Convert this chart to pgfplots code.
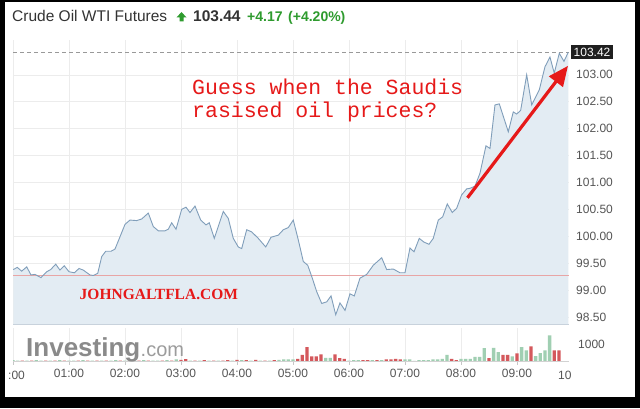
\documentclass[border=0pt]{standalone}
\usepackage{fontspec}
\setmainfont{Liberation Sans}
\newfontfamily\monofont{Liberation Mono}
\newfontfamily\serifont{Liberation Serif}
\usepackage{pgfplots}
\pgfplotsset{compat=1.18}
\usepackage{pgfplotstable}
\usetikzlibrary{arrows.meta}

\definecolor{areafill}{RGB}{227,236,243}
\definecolor{pline}{RGB}{128,158,186}
\definecolor{gridc}{RGB}{236,236,236}
\definecolor{refred}{RGB}{232,165,165}
\definecolor{annred}{RGB}{230,25,25}
\definecolor{vgreen}{RGB}{160,207,178}
\definecolor{vred}{RGB}{212,88,92}
\definecolor{upgreen}{RGB}{46,155,46}
\definecolor{labgray}{RGB}{85,85,85}
\definecolor{titlegray}{RGB}{51,51,51}
\definecolor{logogray}{RGB}{138,138,138}
\definecolor{bottomline}{RGB}{200,210,220}

\pgfplotstableread{
h p
0.005 99.38
0.077 99.42
0.155 99.35
0.245 99.43
0.321 99.28
0.393 99.29
0.500 99.23
0.602 99.34
0.673 99.38
0.763 99.48
0.839 99.37
0.916 99.45
1.000 99.34
1.095 99.32
1.179 99.40
1.255 99.37
1.375 99.28
1.434 99.27
1.513 99.31
1.584 99.62
1.655 99.72
1.750 99.72
1.821 99.76
1.911 99.99
2.000 100.22
2.089 100.30
2.209 100.29
2.298 100.32
2.416 100.43
2.505 100.18
2.595 100.10
2.714 100.10
2.773 100.13
2.834 100.25
2.911 100.13
3.013 100.50
3.089 100.54
3.161 100.44
3.250 100.56
3.352 100.30
3.446 100.21
3.505 100.25
3.595 99.96
3.684 100.24
3.755 100.46
3.845 100.33
3.934 99.96
4.023 99.80
4.084 99.77
4.173 100.12
4.263 100.08
4.380 99.96
4.513 99.80
4.607 99.98
4.738 100.02
4.827 100.12
4.916 100.16
5.005 100.30
5.095 99.93
5.184 99.53
5.263 99.46
5.345 99.22
5.423 98.97
5.513 98.75
5.602 98.78
5.679 98.89
5.763 98.54
5.839 98.76
5.929 98.62
6.018 98.93
6.095 98.89
6.196 99.22
6.316 99.29
6.434 99.46
6.584 99.60
6.673 99.38
6.791 99.39
6.911 99.32
7.000 99.32
7.089 99.78
7.161 99.71
7.255 99.96
7.339 99.89
7.429 99.85
7.505 99.96
7.595 100.30
7.673 100.36
7.755 100.60
7.845 100.44
7.923 100.52
8.013 100.77
8.102 100.88
8.161 100.89
8.250 100.93
8.339 101.17
8.446 101.68
8.518 101.63
8.607 102.44
8.684 102.46
8.845 101.94
8.934 102.31
8.995 102.27
9.066 102.34
9.173 103.00
9.263 102.44
9.398 102.72
9.500 103.15
9.589 103.33
9.666 103.03
9.755 103.40
9.839 103.25
9.916 103.42
}\price

\pgfplotstableread{
k v
0 80
1 60
3 60
5 80
6 60
8 60
10 80
12 60
13 60
15 80
17 60
19 60
21 60
22 80
24 60
26 60
28 80
30 60
31 60
33 80
35 120
38 60
40 60
42 60
44 60
47 60
49 80
51 60
53 60
55 60
57 100
58 120
59 120
60 120
67 220
68 220
72 60
73 80
74 80
77 80
79 80
84 120
85 120
86 40
87 80
88 80
89 80
90 120
91 120
92 160
93 400
96 160
97 160
98 160
99 280
100 280
101 800
103 820
104 560
107 300
109 860
110 660
112 320
113 500
114 660
115 1560
}\volgreen

\pgfplotstableread{
k v
2 60
4 60
7 60
9 60
11 60
14 60
16 60
18 60
20 60
23 60
25 60
27 60
29 60
32 60
34 60
36 100
37 140
39 60
41 80
43 60
45 60
46 80
48 100
50 80
52 100
54 60
56 80
61 160
62 400
63 860
64 300
65 300
66 420
69 420
70 200
71 160
75 80
76 80
78 80
80 120
81 120
82 160
83 120
94 160
95 80
102 200
105 400
106 400
108 480
111 900
116 660
117 660
}\volred

\begin{document}
\begin{tikzpicture}[x=1pt,y=1pt]
% frame
\fill[black] (0,0) rectangle (640,408);
\fill[white] (5,11) rectangle (635,406);

% price panel
\begin{axis}[name=price, at={(13pt,84pt)}, anchor=south west,
  scale only axis, width=556pt, height=284pt,
  xmin=0, xmax=9.929, ymin=98.368, ymax=103.647,
  axis line style={draw=none},
  xtick={0,1,2,3,4,5,6,7,8,9}, xticklabels={},
  ytick={98.5,99,99.5,100,100.5,101,101.5,102,102.5,103},
  yticklabel pos=right, ytick pos=right,
  grid=major, major grid style={gridc, line width=0.6pt},
  tick style={draw=none},
  yticklabel style={anchor=west, inner sep=0pt, xshift=7pt,
    font=\fontsize{12}{14}\selectfont, text=labgray,
    /pgf/number format/fixed, /pgf/number format/fixed zerofill,
    /pgf/number format/precision=2},
  /pgf/number format/assume math mode=true,
]
\addplot[fill=areafill, draw=none] table[x=h,y=p] {\price} \closedcycle;
\addplot[refred, line width=0.7pt] coordinates {(0,99.27) (9.929,99.27)};
\addplot[gray!80, line width=0.8pt, dash pattern=on 4pt off 3pt] coordinates {(0,103.42) (9.929,103.42)};
\addplot[pline, line width=0.9pt] table[x=h,y=p] {\price};
\coordinate (lbl) at (axis cs:9.929,103.42);
\coordinate (arrA) at (axis cs:8.116,100.714);
\coordinate (arrB) at (axis cs:9.911,103.167);
\end{axis}
\draw[draw=bottomline, line width=0.8pt] (price.south west) -- (price.south east);

% last price label
\node[fill=black!88, text=white, anchor=west, inner xsep=2.5pt, inner ysep=3pt,
  font=\fontsize{12}{14}\selectfont] at ([xshift=2pt]lbl) {103.42};

% volume panel
\begin{axis}[name=vol, at={(13pt,46.5pt)}, anchor=south west,
  scale only axis, width=556pt, height=33.5pt,
  xmin=0, xmax=119.15, ymin=0, ymax=2006,
  axis line style={draw=none},
  xtick={0,12,24,36,48,60,72,84,96,108},
  xticklabels={{},01:00,02:00,03:00,04:00,05:00,06:00,07:00,08:00,09:00},
  xtick pos=left, xtick align=outside, major tick length=3pt,
  xtick style={draw=gray!45},
  ytick={1000}, yticklabel pos=right, ytick pos=right,
  ytick style={draw=none},
  xmajorgrids, major x grid style={gridc, line width=0.6pt},
  xticklabel style={font=\fontsize{12}{14}\selectfont, text=labgray, yshift=-1.5pt},
  yticklabel style={anchor=west, inner sep=0pt, xshift=9pt,
    font=\fontsize{12}{14}\selectfont, text=labgray},
  /pgf/number format/1000 sep={},
  /pgf/number format/assume math mode=true,
]
\addplot[ybar, bar width=3.3pt, bar shift=0pt, fill=vgreen, draw=none] table[x=k,y=v] {\volgreen};
\addplot[ybar, bar width=3.3pt, bar shift=0pt, fill=vred, draw=none] table[x=k,y=v] {\volred};
\end{axis}
\draw[gray!35, line width=0.8pt] (vol.south west) -- (vol.south east);

% clipped tick labels at the ends
\node[anchor=base west, inner sep=0pt, text=labgray, font=\fontsize{12}{14}\selectfont] at (8,29) {:00};
\node[anchor=base west, inner sep=0pt, text=labgray, font=\fontsize{12}{14}\selectfont] at (558,29) {10};

% Investing.com logo
\node[anchor=base west, inner sep=0pt, text=logogray, font=\fontsize{26}{28}\bfseries\selectfont] (inv) at (26,52) {Investing};
\node[anchor=base west, inner sep=0pt, text=logogray!85, font=\fontsize{20}{22}\selectfont] at (inv.base east) {.com};

% title row
\node[anchor=base west, inner sep=0pt, text=titlegray, font=\fontsize{15.5}{18}\selectfont] at (12,386) {Crude Oil WTI Futures};
\fill[upgreen] (176.5,390.5) -- (181.5,396) -- (186.5,390.5) -- (183.5,390.5) -- (183.5,386.5) -- (179.5,386.5) -- (179.5,390.5) -- cycle;
\node[anchor=base west, inner sep=0pt, text=titlegray, font=\fontsize{15.5}{18}\bfseries\selectfont] at (193,386) {103.44};
\node[anchor=base west, inner sep=0pt, text=upgreen, font=\fontsize{14}{16}\bfseries\selectfont] at (247,386) {+4.17};
\node[anchor=base west, inner sep=0pt, text=upgreen, font=\fontsize{14}{16}\bfseries\selectfont] at (288,386) {(+4.20\%)};

% annotations
\node[anchor=base west, inner sep=0pt, text=annred, font=\fontsize{21.5}{24}\monofont\selectfont] at (192,313) {Guess when the Saudis};
\node[anchor=base west, inner sep=0pt, text=annred, font=\fontsize{21.5}{24}\monofont\selectfont] at (192,290.5) {rasised oil prices?};
\node[anchor=base west, inner sep=0pt, text=annred, font=\fontsize{15.5}{18}\serifont\bfseries\selectfont] at (79.5,109) {JOHNGALTFLA.COM};
\draw[annred, line width=3.2pt, -{Triangle[length=20pt, width=17pt]}] (arrA) -- (arrB);

\pgfresetboundingbox
\path[use as bounding box] (0,0) rectangle (640,408);
\end{tikzpicture}
\end{document}
